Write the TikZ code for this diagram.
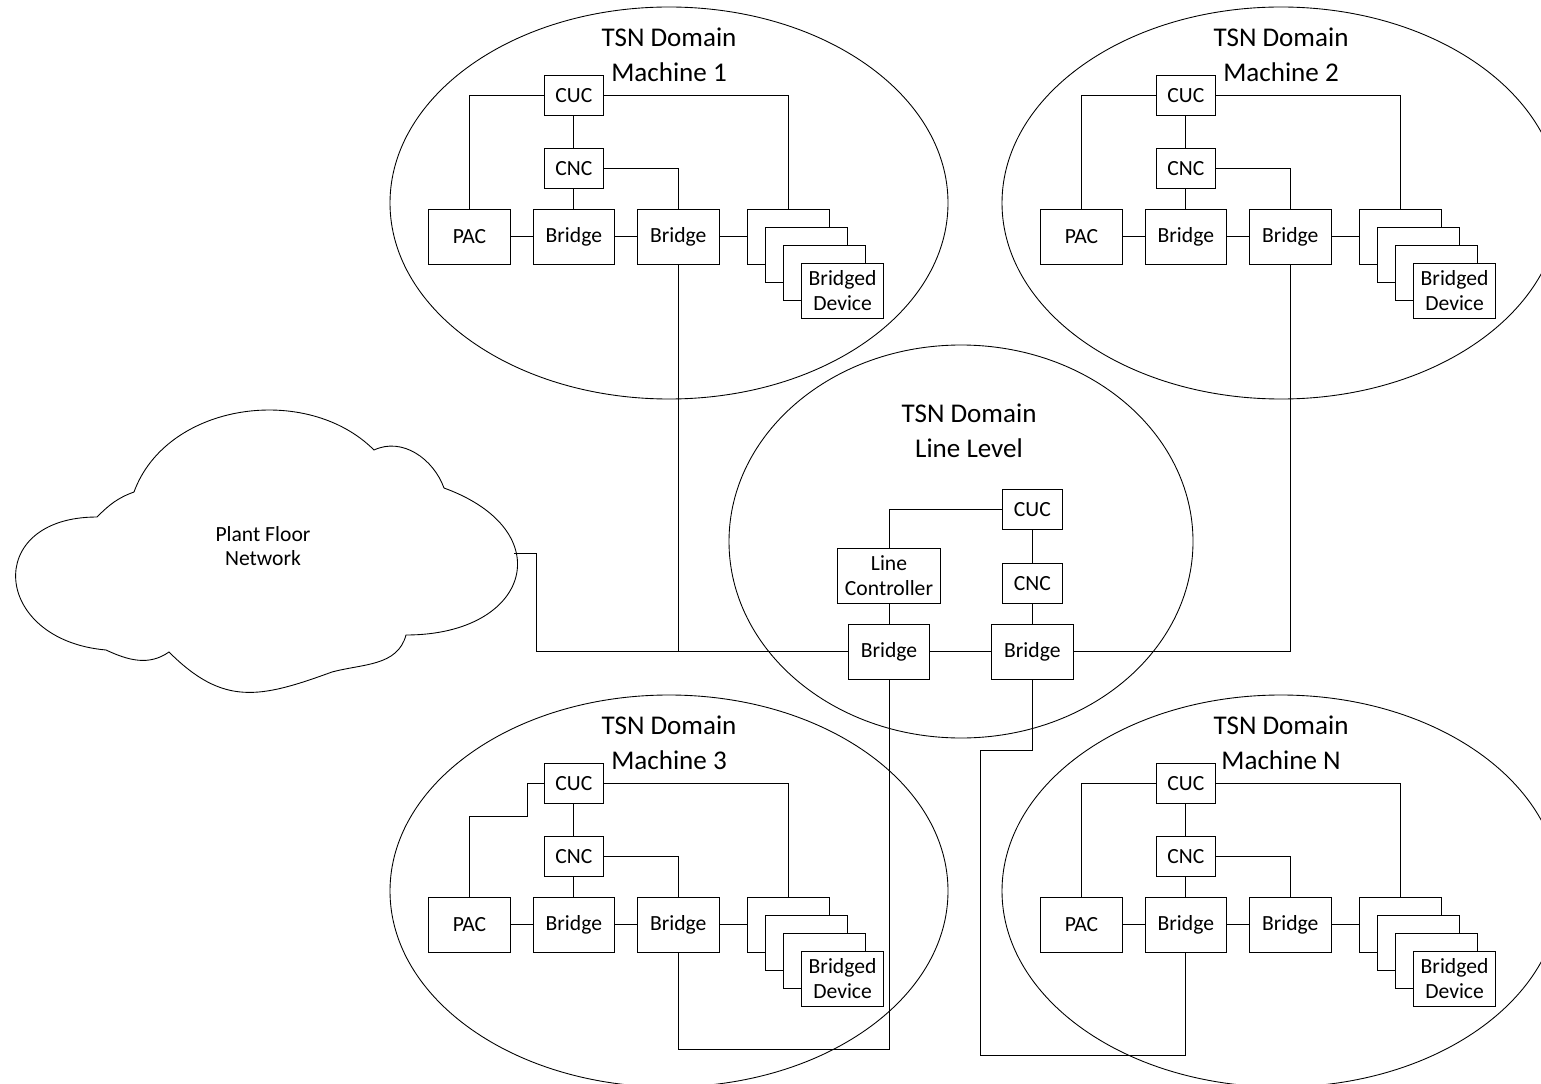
\documentclass[tikz,border=0pt]{standalone}
\usepackage{fontspec}
\setmainfont{Carlito}
\usepackage{tikz}
\usetikzlibrary{positioning}

\begin{document}
\begin{tikzpicture}[
        x=0.02cm, y=0.02cm,
        linha/.style={line width=0.5pt},
        dominio/.style={linha},
        titulo_dominio/.style={align=center, font=\fontsize{15.4}{20}\selectfont},
        texto_caixa/.style={align=center, font=\fontsize{12.3}{14}\selectfont},
        caixa/.style={draw, linha, fill=white, texto_caixa, minimum width=1.63cm, minimum height=1.1cm, inner sep=0pt},
        caixa_pequena/.style={caixa, minimum width=1.19cm, minimum height=0.8cm},
        caixa_larga/.style={caixa, minimum width=2.06cm}
    ]
    \useasboundingbox (0,0) rectangle (1541,-1084);

    % dominios das maquinas
    \foreach \cx/\cy/\rotulo/\mq in {669/-203/1/m1, 1281/-203/2/m2, 669/-891/3/m3, 1281/-891/N/mn}{
        \draw[dominio] (\cx,\cy) ellipse [x radius=279, y radius=196];
        \node[titulo_dominio] (\mq-titulo) at (\cx,\cy+148.5) {TSN Domain\\Machine \rotulo};
        \node[caixa] (\mq-pac) at (\cx-199.5,\cy-33.5) {PAC};
        \node[caixa, right=0.44cm of \mq-pac] (\mq-b1) {Bridge};
        \node[caixa, right=0.44cm of \mq-b1] (\mq-b2) {Bridge};
        \node[caixa, right=0.56cm of \mq-b2] (\mq-d1) {};
        \node[caixa] (\mq-d2) at ([shift={(18,-18)}]\mq-d1) {};
        \node[caixa] (\mq-d3) at ([shift={(18,-18)}]\mq-d2) {};
        \node[caixa] (\mq-d4) at ([shift={(18,-18)}]\mq-d3) {Bridged\\Device};
        \node[caixa_pequena, above=0.4cm of \mq-b1] (\mq-cnc) {CNC};
        \node[caixa_pequena, above=0.64cm of \mq-cnc] (\mq-cuc) {CUC};
        \draw[linha] (\mq-pac) -- (\mq-b1) -- (\mq-b2) -- (\mq-d1);
        \draw[linha] (\mq-cuc) -- (\mq-cnc) -- (\mq-b1);
        \draw[linha] (\mq-cnc.east) -| (\mq-b2.north);
        \draw[linha] (\mq-cuc.east) -| (\mq-d1.north);
    }
    \draw[linha] (m1-cuc.west) -| (m1-pac.north);
    \draw[linha] (m2-cuc.west) -| (m2-pac.north);
    \draw[linha] (mn-cuc.west) -| (mn-pac.north);
    \draw[linha] (m3-cuc.west) -- ++(-16,0) -- ++(0,-33) -| (m3-pac.north);

    % dominio da linha
    \draw[dominio] (961,-541.5) ellipse [x radius=232, y radius=196.5];
    \node[titulo_dominio] (ll-titulo) at (969,-431) {TSN Domain\\Line Level};
    \node[caixa] (ll-b1) at (889,-651.5) {Bridge};
    \node[caixa, right=1.22cm of ll-b1] (ll-b2) {Bridge};
    \node[caixa_larga, above=0.4cm of ll-b1] (ll-lc) {Line\\Controller};
    \node[caixa_pequena, above=0.4cm of ll-b2] (ll-cnc) {CNC};
    \node[caixa_pequena, above=0.66cm of ll-cnc] (ll-cuc) {CUC};

    % rede da planta
    \draw[linha] (97,-517) to[out=45,in=200] (134,-492) to[out=70,in=135] (374,-450)
        to[out=25,in=110] (444,-488) to[out=-20,in=0,looseness=2.1] (406,-635)
        to[out=-105,in=15] (332,-672) to[out=-160,in=-45,looseness=1.2] (169,-652)
        to[out=-145,in=-25] (106,-650) to[out=175,in=180,looseness=2.2] (97,-517) -- cycle;
    \node[texto_caixa] (rede-texto) at (263,-546) {Plant Floor\\Network};
    \coordinate (rede) at (514,-553);

    \draw[linha] (ll-cuc.west) -| (ll-lc.north);
    \draw[linha] (ll-cuc) -- (ll-cnc) -- (ll-b2);
    \draw[linha] (ll-lc) -- (ll-b1) -- (ll-b2);
    \draw[linha] (ll-b2.east) -| (m2-b2.south);
    \draw[linha] (m1-b2.south) |- (ll-b1.west);
    \draw[linha] (rede) -- ++(22,0) |- (ll-b1.west);
    \draw[linha] (ll-b1.south) -- ++(0,-370) -| (m3-b2.south);
    \draw[linha] (ll-b2.south) -- ++(0,-71) -- ++(-52,0) -- ++(0,-305) -| (mn-b1.south);
\end{tikzpicture}
\end{document}
